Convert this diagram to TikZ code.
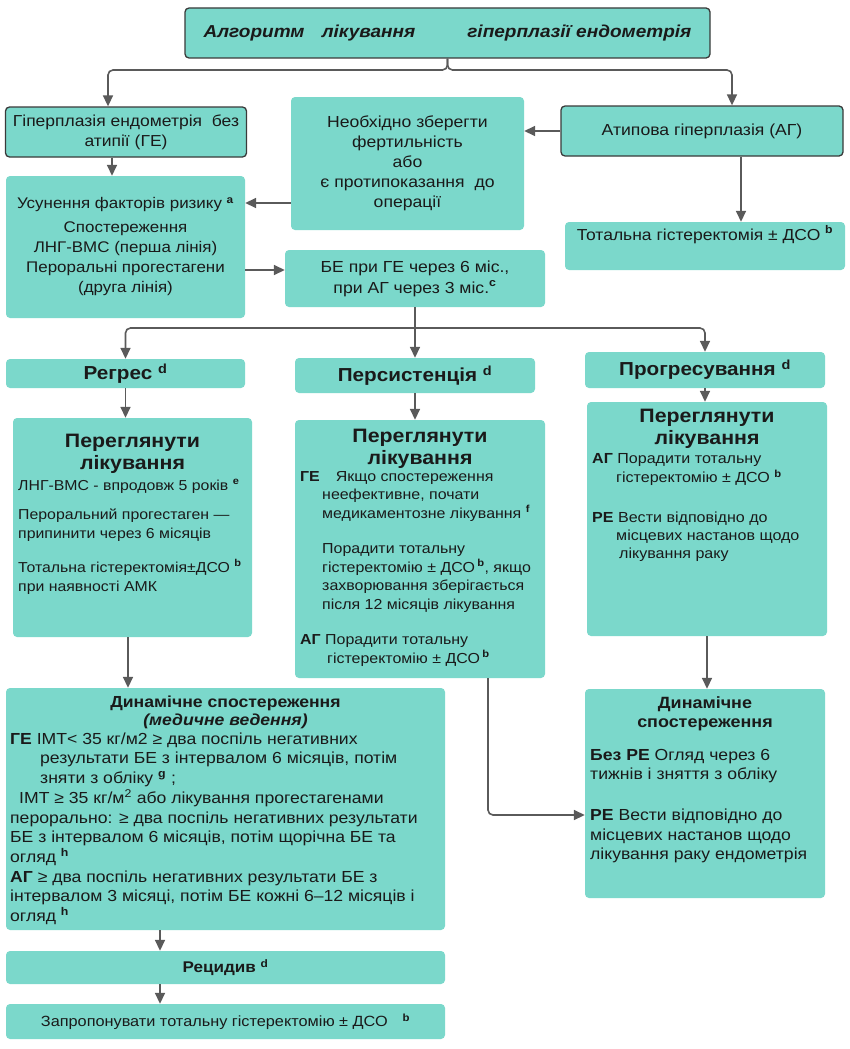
\documentclass[tikz,border=0pt]{standalone}
\usepackage{fontspec}
\setmainfont{Liberation Sans}[FakeStretch=1.1]
\usetikzlibrary{arrows.meta}
\definecolor{tealbox}{HTML}{7BD8CB}
\definecolor{arrowgray}{HTML}{5A5A5A}
\definecolor{bordergray}{HTML}{3A3A3A}
\definecolor{ink}{HTML}{1A1A1A}
\newcommand\sps[1]{\textsuperscript{\textbf{#1}}}
\newcommand\fs[2]{\fontsize{#1}{#2}\selectfont}
\begin{document}
\begin{tikzpicture}[x=1pt,y=-1pt,
  box/.style={fill=tealbox, rounded corners=4pt, inner sep=0pt, text=ink,
    font=\fs{15}{20}, align=center},
  bbox/.style={box, draw=bordergray, line width=1.3pt},
  txt/.style={inner sep=0pt, text=ink, font=\fs{14.5}{19}, align=left, anchor=north west},
  ttl/.style={inner sep=0pt, text=ink, font=\fs{19.4}{22}\bfseries, align=center, anchor=north},
  head/.style={box, font=\fs{18.8}{20}\bfseries},
  conn/.style={draw=arrowgray, line width=1.6pt, rounded corners=5pt, -{Triangle[width=10pt,length=11pt]}},
  line/.style={draw=arrowgray, line width=1.6pt}
]
\useasboundingbox (0,0) rectangle (850,1049);
\fill[white] (0,0) rectangle (850,1049);

% top level
\node[bbox, minimum width=525, minimum height=50, font=\fs{17.3}{20}\bfseries\itshape] (title) at (447.5,33)
  {Алгоритм\quad лікування\qquad\quad гіперплазії ендометрія};
\node[bbox, minimum width=241, minimum height=50, font=\fs{15.9}{20}] (ge) at (126,132)
  {Гіперплазія ендометрія\ \ без\\атипії (ГЕ)};
\node[box, minimum width=233, minimum height=133, font=\fs{16}{20}] (neo) at (407.5,163.5)
  {Необхідно зберегти\\фертильність\\або\\є протипоказання\ \ до\\операції};
\node[bbox, minimum width=282, minimum height=50, font=\fs{16}{20}] (ag) at (702,131)
  {Атипова гіперплазія (АГ)};
\node[box, minimum width=239, minimum height=142, font=\fs{15.4}{20}] (usun) at (125.5,247)
  {Усунення факторів ризику \sps{a}\\[4pt]Спостереження\\ЛНГ-ВМС (перша лінія)\\Пероральні прогестагени\\(друга лінія)};
\node[box, minimum width=260, minimum height=57, font=\fs{16}{21}] (be) at (415,278.5)
  {БЕ при ГЕ через 6 міс.,\\при АГ через 3 міс.\sps{c}};
\node[box, minimum width=280, minimum height=48, font=\fs{15.9}{20}] (tot) at (705,246)
  {Тотальна гістеректомія ± ДСО \sps{b}\\\strut};

% second level
\node[head, minimum width=239, minimum height=29] (regres) at (125.5,373.5) {Регрес \sps{d}};
\node[head, minimum width=240, minimum height=35] (pers) at (415,375.5) {Персистенція \sps{d}};
\node[head, minimum width=240, minimum height=36] (prog) at (705,370) {Прогресування \sps{d}};

% review boxes
\node[box, minimum width=239, minimum height=219] (pl) at (132.5,527.5) {};
\node[ttl] (plt) at (132.5,431.6) {\strut Переглянути\\лікування};
\node[txt, font=\fs{14.4}{19}] (plb) at (18,476.7)
  {\strut ЛНГ-ВМС - впродовж 5 років \sps{e}\\[10pt]
   Пероральний прогестаген —\\
   припинити через 6 місяців\\[15pt]
   Тотальна гістеректомія±ДСО \sps{b}\\
   при наявності АМК};

\node[box, minimum width=250, minimum height=258] (pm) at (420,549) {};
\node[ttl] (pmt) at (420,426.6) {\strut Переглянути\\лікування};
\node[txt, font=\fs{14.5}{18.5}] (pmb) at (300,468)
  {\strut\textbf{ГЕ}\hspace{16pt}Якщо спостереження\\
   \hspace*{22pt}неефективне, почати\\
   \hspace*{22pt}медикаментозне лікування \sps{f}\\[17pt]
   \hspace*{22pt}Порадити тотальну\\
   \hspace*{22pt}гістеректомію ± ДСО\,\sps{b}, якщо\\
   \hspace*{22pt}захворювання зберігається\\
   \hspace*{22pt}після 12 місяців лікування\\[17pt]
   \textbf{АГ} Порадити тотальну\\
   \hspace*{27pt}гістеректомію ± ДСО\,\sps{b}};

\node[box, minimum width=240, minimum height=234] (pr) at (707,519) {};
\node[ttl] (prt) at (707,406.6) {\strut Переглянути\\лікування};
\node[txt, font=\fs{14.6}{18}] (prb) at (592,450.4)
  {\strut\textbf{АГ} Порадити тотальну\\
   \hspace*{24pt}гістеректомію ± ДСО \sps{b}\\[22pt]
   \textbf{РЕ} Вести відповідно до\\
   \hspace*{24pt}місцевих настанов щодо\\
   \hspace*{27pt}лікування раку};

% dynamic observation
\node[box, minimum width=439, minimum height=242] (dl) at (225.5,809) {};
\node[ttl, font=\fs{16}{18}\bfseries] (dlt) at (225.5,694.4)
  {\strut Динамічне спостереження\\\textit{(медичне ведення)}};
\node[txt, font=\fs{16}{19.7}] (dlb) at (10,730.2)
  {\strut\textbf{ГЕ} ІМТ< 35 кг/м2 ≥ два поспіль негативних\\
   \hspace*{30pt}результати БЕ з інтервалом 6 місяців, потім\\
   \hspace*{30pt}зняти з обліку \sps{g} ;\\
   \hspace*{9pt}ІМТ ≥ 35 кг/м\textsuperscript{2} або лікування прогестагенами\\
   перорально: ≥ два поспіль негативних результати\\
   БЕ з інтервалом 6 місяців, потім щорічна БЕ та\\
   огляд \sps{h}\\
   \textbf{АГ} ≥ два поспіль негативних результати БЕ з\\
   інтервалом 3 місяці, потім БЕ кожні 6–12 місяців і\\
   огляд \sps{h}};

\node[box, minimum width=240, minimum height=209] (dr) at (705,793.5) {};
\node[ttl, font=\fs{16.3}{19}\bfseries] (drt) at (705,694.7)
  {\strut Динамічне\\спостереження};
\node[txt, font=\fs{16}{19.5}] (drb) at (590,746.4)
  {\strut\textbf{Без РЕ} Огляд через 6\\
   тижнів і зняття з обліку\\[21.5pt]
   \textbf{РЕ} Вести відповідно до\\
   місцевих настанов щодо\\
   лікування раку ендометрія};

% bottom
\node[box, minimum width=439, minimum height=33, font=\fs{15.5}{17}\bfseries] (rec) at (225.5,967.5) {Рецидив \sps{d}};
\node[box, minimum width=439, minimum height=35, font=\fs{14.8}{17}] (zap) at (225.5,1021.5)
  {Запропонувати тотальну гістеректомію ± ДСО\quad\sps{b}};

% connectors
\coordinate (jl) at (108,70);
\coordinate (jr) at (732,70);
\draw[conn] (title.south) |- (jl) -- (jl |- ge.north);
\draw[conn] (title.south) |- (jr) -- (jr |- ag.north);
\draw[conn] (ag.west) -- (ag.west -| neo.east);
\coordinate (gx) at (112,0);
\draw[conn] (gx |- ge.south) -- (gx |- usun.north);
\coordinate (ny) at (0,203);
\draw[conn] (ny -| neo.west) -- (ny -| usun.east);
\coordinate (uy) at (0,270);
\draw[conn] (uy -| usun.east) -- (uy -| be.west);
\coordinate (tx) at (741,0);
\draw[conn] (tx |- ag.south) -- (tx |- tot.north);
\coordinate (sp) at (415,328);
\draw[line] (be.south) -- (sp);
\draw[conn] (sp) -| (regres.north);
\draw[conn] (sp) -- (pers.north);
\draw[conn] (sp) -| (prog.north);
\draw[conn] (regres.south) -- (regres.south |- pl.north);
\draw[conn] (pers.south) -- (pers.south |- pm.north);
\draw[conn] (prog.south) -- (prog.south |- pr.north);
\coordinate (lx) at (128,0);
\draw[conn] (lx |- pl.south) -- (lx |- dl.north);
\draw[conn] (pr.south) -- (pr.south |- dr.north);
\coordinate (bend) at (488,815);
\draw[conn] (bend |- pm.south) -- (bend) -- (bend -| dr.west);
\coordinate (bx) at (160,0);
\draw[conn] (bx |- dl.south) -- (bx |- rec.north);
\draw[conn] (bx |- rec.south) -- (bx |- zap.north);
\end{tikzpicture}
\end{document}
